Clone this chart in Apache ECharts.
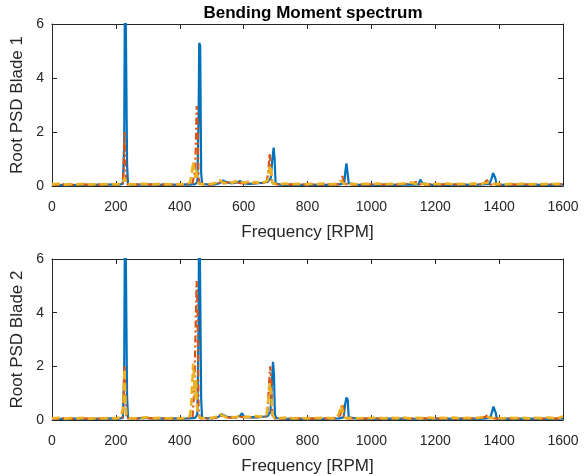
<!DOCTYPE html>
<html><head><meta charset="utf-8">
<script src="https://cdn.jsdelivr.net/npm/echarts@6/dist/echarts.min.js"></script>
<style>html,body{margin:0;padding:0;background:#fff}#c{width:587px;height:476px}</style>
</head><body><div id="c"></div>
<script>
var title = 'Bending Moment spectrum';
var xName = 'Frequency [RPM]';
var yNames = ['Root PSD Blade 1', 'Root PSD Blade 2'];
var xTicks = [0, 200, 400, 600, 800, 1000, 1200, 1400, 1600];
var yTicks = [0, 2, 4, 6];

// Blade 1 – [frequency RPM, root PSD]
var blade1Blue = [[0,0.02],[10,0.05],[30,0.03],[50,0.04],[70,0.03],[90,0.05],[110,0.03],[130,0.04],[150,0.05],[170,0.04],[190,0.06],[210,0.05],[222,0.08],[226,1.5],[229,9],[232,9],[235,0.8],[238,0.08],[250,0.04],[270,0.05],[290,0.06],[310,0.05],[330,0.04],[350,0.05],[370,0.04],[390,0.05],[410,0.06],[430,0.05],[448,0.07],[455,0.15],[459,2.5],[461,5.3],[464,5.2],[467,0.5],[470,0.08],[490,0.05],[510,0.06],[525,0.1],[535,0.2],[545,0.15],[560,0.1],[575,0.12],[590,0.18],[600,0.1],[620,0.08],[640,0.1],[660,0.12],[675,0.15],[685,0.3],[690,1.0],[694,1.42],[697,1.0],[700,0.1],[715,0.05],[740,0.04],[760,0.05],[780,0.04],[800,0.05],[820,0.04],[840,0.05],[860,0.04],[880,0.05],[900,0.06],[915,0.1],[919,0.6],[922,0.84],[926,0.78],[929,0.1],[935,0.05],[960,0.04],[980,0.05],[1000,0.04],[1020,0.05],[1040,0.04],[1060,0.05],[1080,0.04],[1100,0.05],[1120,0.06],[1135,0.05],[1148,0.06],[1153,0.24],[1157,0.26],[1160,0.1],[1165,0.05],[1190,0.04],[1210,0.05],[1230,0.04],[1250,0.05],[1270,0.04],[1290,0.05],[1310,0.04],[1330,0.05],[1350,0.06],[1370,0.08],[1377,0.3],[1381,0.48],[1385,0.45],[1388,0.3],[1392,0.05],[1410,0.04],[1430,0.05],[1450,0.04],[1470,0.05],[1490,0.04],[1510,0.05],[1530,0.04],[1550,0.05],[1570,0.04],[1590,0.05],[1600,0.06]];
var blade1Orange = [[0,0.05],[15,0.04],[35,0.06],[55,0.05],[75,0.04],[95,0.06],[115,0.05],[135,0.04],[155,0.06],[175,0.05],[195,0.07],[212,0.06],[220,0.08],[224,0.5],[227,2.0],[230,0.6],[233,0.06],[255,0.05],[275,0.06],[295,0.05],[315,0.06],[335,0.05],[355,0.06],[375,0.05],[395,0.06],[415,0.05],[432,0.07],[440,0.1],[447,0.5],[450,1.3],[453,2.96],[456,2.2],[459,0.3],[463,0.06],[485,0.05],[505,0.07],[525,0.12],[540,0.1],[555,0.14],[570,0.1],[585,0.12],[600,0.09],[615,0.12],[630,0.1],[645,0.13],[660,0.11],[672,0.12],[678,0.6],[681,1.21],[684,0.9],[688,0.1],[705,0.06],[725,0.05],[745,0.06],[765,0.05],[785,0.06],[805,0.05],[825,0.06],[845,0.05],[865,0.06],[885,0.05],[900,0.07],[906,0.15],[909,0.37],[912,0.35],[915,0.1],[925,0.06],[945,0.05],[965,0.06],[985,0.05],[1005,0.06],[1025,0.05],[1045,0.06],[1065,0.05],[1085,0.06],[1105,0.07],[1120,0.08],[1132,0.12],[1140,0.15],[1146,0.06],[1165,0.05],[1185,0.06],[1205,0.05],[1225,0.06],[1245,0.05],[1265,0.06],[1285,0.05],[1305,0.06],[1325,0.05],[1345,0.07],[1355,0.12],[1362,0.22],[1368,0.2],[1372,0.05],[1395,0.06],[1415,0.05],[1435,0.06],[1455,0.05],[1475,0.06],[1495,0.05],[1515,0.06],[1535,0.05],[1555,0.06],[1575,0.05],[1600,0.07]];
var blade1Yellow = [[0,0.06],[20,0.08],[40,0.05],[60,0.07],[80,0.06],[100,0.08],[120,0.05],[140,0.07],[160,0.06],[180,0.08],[200,0.06],[218,0.09],[224,0.2],[228,0.3],[232,0.15],[236,0.07],[260,0.06],[280,0.08],[300,0.07],[320,0.06],[340,0.08],[360,0.06],[380,0.07],[400,0.06],[420,0.08],[432,0.12],[438,0.5],[442,0.9],[446,0.85],[449,0.3],[452,0.6],[455,0.2],[460,0.08],[480,0.07],[500,0.08],[515,0.12],[525,0.22],[532,0.15],[545,0.1],[555,0.16],[565,0.12],[575,0.18],[585,0.1],[595,0.14],[605,0.12],[615,0.17],[625,0.1],[635,0.15],[645,0.12],[655,0.18],[665,0.13],[675,0.2],[679,0.5],[683,0.78],[686,0.55],[690,0.1],[710,0.07],[730,0.09],[750,0.06],[770,0.08],[790,0.06],[810,0.08],[830,0.07],[850,0.09],[870,0.06],[890,0.08],[900,0.12],[905,0.2],[909,0.15],[915,0.07],[940,0.08],[960,0.06],[980,0.08],[1000,0.07],[1020,0.09],[1040,0.06],[1060,0.08],[1080,0.07],[1100,0.09],[1115,0.1],[1125,0.13],[1132,0.1],[1140,0.07],[1160,0.08],[1180,0.06],[1200,0.08],[1220,0.07],[1240,0.09],[1260,0.06],[1280,0.08],[1300,0.07],[1320,0.09],[1340,0.08],[1355,0.1],[1365,0.13],[1372,0.1],[1380,0.07],[1400,0.08],[1420,0.06],[1440,0.08],[1460,0.07],[1480,0.09],[1500,0.06],[1520,0.08],[1540,0.07],[1560,0.09],[1580,0.07],[1600,0.11]];

// Blade 2 – [frequency RPM, root PSD]
var blade2Blue = [[0,0.02],[10,0.05],[30,0.04],[50,0.03],[70,0.05],[90,0.04],[110,0.03],[130,0.05],[150,0.04],[170,0.05],[190,0.06],[210,0.05],[222,0.08],[226,1.8],[229,9],[232,9],[235,0.9],[238,0.08],[250,0.05],[270,0.06],[290,0.08],[310,0.06],[330,0.05],[350,0.06],[370,0.05],[390,0.06],[410,0.05],[430,0.06],[448,0.08],[455,0.2],[459,3.5],[461,9],[464,9],[467,0.8],[470,0.08],[490,0.06],[510,0.08],[522,0.12],[530,0.22],[538,0.18],[548,0.12],[560,0.1],[575,0.09],[588,0.15],[595,0.25],[602,0.12],[615,0.1],[630,0.11],[645,0.1],[660,0.12],[675,0.14],[684,0.3],[689,1.5],[692,2.17],[695,1.7],[698,0.2],[703,0.07],[720,0.05],[740,0.04],[760,0.05],[780,0.04],[800,0.05],[820,0.04],[840,0.05],[860,0.04],[880,0.05],[900,0.06],[913,0.1],[918,0.6],[922,0.84],[926,0.75],[929,0.1],[935,0.05],[960,0.04],[980,0.05],[1000,0.04],[1020,0.05],[1040,0.04],[1060,0.05],[1080,0.04],[1100,0.05],[1120,0.04],[1140,0.05],[1155,0.07],[1162,0.05],[1180,0.04],[1200,0.05],[1220,0.04],[1240,0.05],[1260,0.04],[1280,0.05],[1300,0.04],[1320,0.05],[1340,0.04],[1360,0.06],[1372,0.08],[1378,0.3],[1382,0.5],[1386,0.45],[1389,0.28],[1393,0.05],[1410,0.04],[1430,0.05],[1450,0.04],[1470,0.05],[1490,0.04],[1510,0.05],[1530,0.04],[1550,0.05],[1570,0.04],[1590,0.05],[1600,0.06]];
var blade2Orange = [[0,0.05],[15,0.04],[35,0.06],[55,0.05],[75,0.04],[95,0.06],[115,0.05],[135,0.04],[155,0.06],[175,0.05],[195,0.07],[212,0.06],[220,0.08],[224,0.6],[227,2.0],[230,0.7],[233,0.06],[255,0.05],[275,0.06],[295,0.07],[315,0.06],[335,0.05],[355,0.06],[375,0.05],[395,0.06],[415,0.05],[432,0.07],[440,0.12],[446,1.2],[450,3.6],[453,5.18],[456,4.0],[459,0.4],[463,0.06],[485,0.05],[505,0.07],[522,0.1],[532,0.16],[545,0.1],[560,0.09],[575,0.08],[590,0.12],[605,0.1],[620,0.09],[635,0.1],[650,0.12],[665,0.1],[674,0.15],[679,1.2],[683,2.0],[686,1.6],[690,0.2],[695,0.06],[715,0.05],[735,0.06],[755,0.05],[775,0.06],[795,0.05],[815,0.06],[835,0.05],[855,0.06],[875,0.05],[895,0.07],[903,0.2],[908,0.6],[912,0.45],[915,0.1],[925,0.06],[945,0.05],[965,0.06],[985,0.05],[1005,0.06],[1025,0.05],[1045,0.06],[1065,0.05],[1085,0.06],[1105,0.05],[1125,0.06],[1145,0.05],[1165,0.06],[1185,0.05],[1205,0.06],[1225,0.05],[1245,0.06],[1265,0.05],[1285,0.06],[1305,0.05],[1325,0.06],[1345,0.07],[1357,0.12],[1365,0.2],[1371,0.18],[1375,0.05],[1395,0.06],[1415,0.05],[1435,0.06],[1455,0.05],[1475,0.06],[1495,0.05],[1515,0.06],[1535,0.05],[1555,0.06],[1575,0.05],[1600,0.07]];
var blade2Yellow = [[0,0.06],[20,0.08],[40,0.05],[60,0.07],[80,0.06],[100,0.08],[120,0.05],[140,0.07],[160,0.06],[180,0.08],[200,0.06],[215,0.1],[220,0.3],[224,0.7],[227,1.9],[230,0.8],[233,0.2],[237,0.07],[260,0.06],[280,0.08],[300,0.1],[320,0.07],[340,0.08],[360,0.06],[380,0.07],[400,0.06],[420,0.08],[432,0.15],[436,0.6],[439,1.3],[442,2.1],[445,1.6],[448,0.8],[451,1.5],[454,0.5],[458,0.15],[465,0.08],[485,0.07],[505,0.09],[518,0.14],[527,0.22],[535,0.16],[548,0.1],[560,0.12],[572,0.09],[585,0.14],[598,0.1],[612,0.13],[625,0.1],[638,0.15],[650,0.12],[662,0.16],[672,0.2],[678,0.8],[682,1.38],[686,1.0],[690,0.2],[696,0.08],[715,0.07],[735,0.09],[755,0.06],[775,0.08],[795,0.06],[815,0.08],[835,0.07],[855,0.09],[875,0.06],[893,0.1],[900,0.3],[905,0.55],[909,0.4],[913,0.12],[920,0.07],[940,0.08],[960,0.06],[980,0.08],[1000,0.07],[1020,0.09],[1040,0.06],[1060,0.08],[1080,0.07],[1100,0.09],[1120,0.06],[1140,0.08],[1160,0.07],[1180,0.09],[1200,0.06],[1220,0.08],[1240,0.07],[1260,0.09],[1280,0.06],[1300,0.08],[1320,0.07],[1340,0.09],[1352,0.12],[1360,0.15],[1366,0.12],[1372,0.07],[1390,0.08],[1410,0.06],[1430,0.08],[1450,0.07],[1470,0.09],[1490,0.06],[1510,0.08],[1530,0.07],[1550,0.09],[1570,0.07],[1590,0.09],[1600,0.14]];

var seriesSets = [[blade1Blue, blade1Orange, blade1Yellow],[blade2Blue, blade2Orange, blade2Yellow]];
var colors = ['#0072BD', '#D95319', '#EDB120'];
var lineTypes = ['solid', [7, 3, 2, 3], [8, 4]];
var widths = [2.2, 2.2, 2.6];

var axisColor = '#262626';
var font = 'Liberation Sans, Arial, Helvetica, sans-serif';
var grids = [
  {left: 52, top: 24, width: 511, height: 162},
  {left: 52, top: 259, width: 511, height: 161}
];
var xAxes = [], yAxes = [], series = [];
grids.forEach(function (g, i) {
  xAxes.push({gridIndex: i, type: 'value', min: xTicks[0], max: xTicks[xTicks.length-1], interval: 200,
    position: 'bottom', name: xName, nameLocation: 'middle', nameGap: 38,
    nameTextStyle: {fontFamily: font, fontSize: 17, color: axisColor},
    axisLine: {show: true, onZero: false, lineStyle: {color: axisColor, width: 1}},
    axisTick: {show: true, inside: true, length: 5, lineStyle: {color: axisColor, width: 1}},
    axisLabel: {margin: 14, fontFamily: font, fontSize: 14, color: axisColor,
      formatter: function (v) { return String(v); }},
    splitLine: {show: false}});
  xAxes.push({gridIndex: i, type: 'value', min: xTicks[0], max: xTicks[xTicks.length-1], interval: 200,
    position: 'top',
    axisLine: {show: true, onZero: false, lineStyle: {color: axisColor, width: 1}},
    axisTick: {show: true, inside: true, length: 5, lineStyle: {color: axisColor, width: 1}},
    axisLabel: {show: false}, splitLine: {show: false}});
  yAxes.push({gridIndex: i, type: 'value', min: yTicks[0], max: yTicks[yTicks.length-1], interval: 2,
    position: 'left', name: yNames[i], nameLocation: 'middle', nameGap: 21,
    nameTextStyle: {fontFamily: font, fontSize: 17, color: axisColor},
    axisLine: {show: true, onZero: false, lineStyle: {color: axisColor, width: 1}},
    axisTick: {show: true, inside: true, length: 5, lineStyle: {color: axisColor, width: 1}},
    axisLabel: {margin: 8, fontFamily: font, fontSize: 14, color: axisColor},
    splitLine: {show: false}});
  yAxes.push({gridIndex: i, type: 'value', min: yTicks[0], max: yTicks[yTicks.length-1], interval: 2,
    position: 'right',
    axisLine: {show: true, onZero: false, lineStyle: {color: axisColor, width: 1}},
    axisTick: {show: true, inside: true, length: 5, lineStyle: {color: axisColor, width: 1}},
    axisLabel: {show: false}, splitLine: {show: false}});
  seriesSets[i].forEach(function (d, k) {
    series.push({type: 'line', xAxisIndex: i*2, yAxisIndex: i*2, data: d, showSymbol: false,
      symbol: 'none', animation: false, clip: true, z: 2 + k,
      lineStyle: {color: colors[k], width: widths[k], type: lineTypes[k]}});
  });
});

var chart = echarts.init(document.getElementById('c'), null, {renderer: 'canvas'});
chart.setOption({
  animation: false,
  backgroundColor: '#fff',
  title: {text: title, left: 308, top: 0, textAlign: 'center',
    textStyle: {fontFamily: font, fontSize: 17, fontWeight: 'bold', color: '#000'}},
  grid: grids,
  xAxis: xAxes,
  yAxis: yAxes,
  series: series
});
</script></body></html>
